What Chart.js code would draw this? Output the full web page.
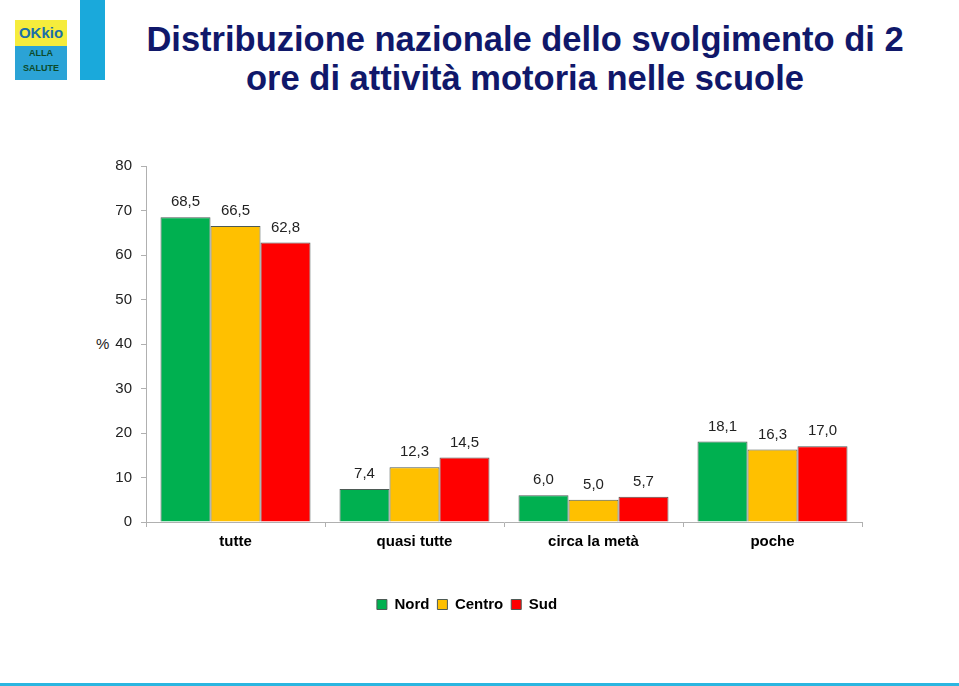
<!DOCTYPE html>
<html>
<head>
<meta charset="utf-8">
<script src="https://cdn.jsdelivr.net/npm/chart.js@4"></script>
<style>
  body { margin: 0; background: #fff; font-family: "Liberation Sans", Arial, sans-serif; }
  #wrap { position: relative; width: 959px; height: 686px; overflow: hidden; }
  #title { position: absolute; left: 90px; width: 870px; top: 20px; text-align: center;
           font-weight: bold; font-size: 34.5px; line-height: 39px; color: #10186a; }
  #bar { position: absolute; left: 80px; top: 0; width: 25px; height: 80px; background: #1aa9db; }
  #logo { position: absolute; left: 15px; top: 20px; width: 52px; height: 60px; background: #2ba3d6; }
  #logo .top { height: 26px; background: #f6ec3c; font: bold 15px "Liberation Sans"; color: #1b6fa8; text-align: center; line-height: 26px; }
  #logo .bot { font: bold 9px "Liberation Sans"; color: #0c4a2a; text-align: center; line-height: 15px; }
  #pct { position: absolute; left: 96px; top: 335px; font-size: 15px; color: #222; }
  #line { position: absolute; left: 0; top: 683px; width: 959px; height: 3px; background: #2bb6e0; }
  canvas { position: absolute; left: 0; top: 0; }
</style>
</head>
<body>
<div id="wrap">
  <div id="logo"><div class="top">OKkio</div><div class="bot">ALLA<br>SALUTE</div></div>
  <div id="bar"></div>
  <div id="title">Distribuzione nazionale dello svolgimento di 2<br>ore di attività motoria nelle scuole</div>
  <div id="pct">%</div>
  <canvas id="chart" width="959" height="686"></canvas>
  <div id="line"></div>
</div>
<script>
const categories = ["tutte", "quasi tutte", "circa la metà", "poche"];
const nord = [68.5, 7.4, 6.0, 18.1];
const centro = [66.5, 12.3, 5.0, 16.3];
const sud = [62.8, 14.5, 5.7, 17.0];
const yTicks = [0, 10, 20, 30, 40, 50, 60, 70, 80];

const FONT = "'Liberation Sans', Arial, sans-serif";

const valueLabels = {
  id: "valueLabels",
  afterDatasetsDraw(chart) {
    const ctx = chart.ctx;
    ctx.save();
    ctx.font = "15px " + FONT;
    ctx.fillStyle = "#222";
    ctx.textAlign = "center";
    ctx.textBaseline = "middle";
    chart.data.datasets.forEach((ds, i) => {
      chart.getDatasetMeta(i).data.forEach((bar, j) => {
        const txt = ds.data[j].toFixed(1).replace(".", ",");
        ctx.fillText(txt, bar.x, bar.y - 15);
      });
    });
    ctx.restore();
  }
};

const bar = (label, data, color) => ({
  label, data, backgroundColor: color, borderColor: "#4d5a55", borderWidth: 1,
  categoryPercentage: 0.838, barPercentage: 1
});

new Chart(document.getElementById("chart"), {
  type: "bar",
  data: {
    labels: categories,
    datasets: [
      bar("Nord", nord, "#00b050"),
      bar("Centro", centro, "#ffc000"),
      bar("Sud", sud, "#ff0000")
    ]
  },
  options: {
    responsive: false,
    animation: false,
    layout: { padding: { top: 166, right: 97, bottom: 64, left: 72 } },
    plugins: {
      tooltip: { enabled: false },
      legend: {
        position: "bottom",
        labels: { color: "#000", font: { family: FONT, size: 15, weight: "bold" }, boxWidth: 10, boxHeight: 10, padding: 8 }
      }
    },
    scales: {
      x: {
        afterFit: s => { s.height = 67; },
        border: { color: "#b0b0b0" },
        grid: { offset: true, drawOnChartArea: false, tickLength: 5, color: "#b0b0b0" },
        ticks: { color: "#000", font: { family: FONT, size: 15, weight: "bold" }, padding: 6 }
      },
      y: {
        min: 0, max: 80,
        afterFit: s => { s.width = 74; },
        afterBuildTicks: s => { s.ticks = yTicks.map(v => ({ value: v })); },
        border: { color: "#b0b0b0" },
        grid: { drawOnChartArea: false, tickLength: 5, color: "#b0b0b0" },
        ticks: { color: "#222", font: { family: FONT, size: 15 }, padding: 9 }
      }
    }
  },
  plugins: [valueLabels]
});
</script>
</body>
</html>
